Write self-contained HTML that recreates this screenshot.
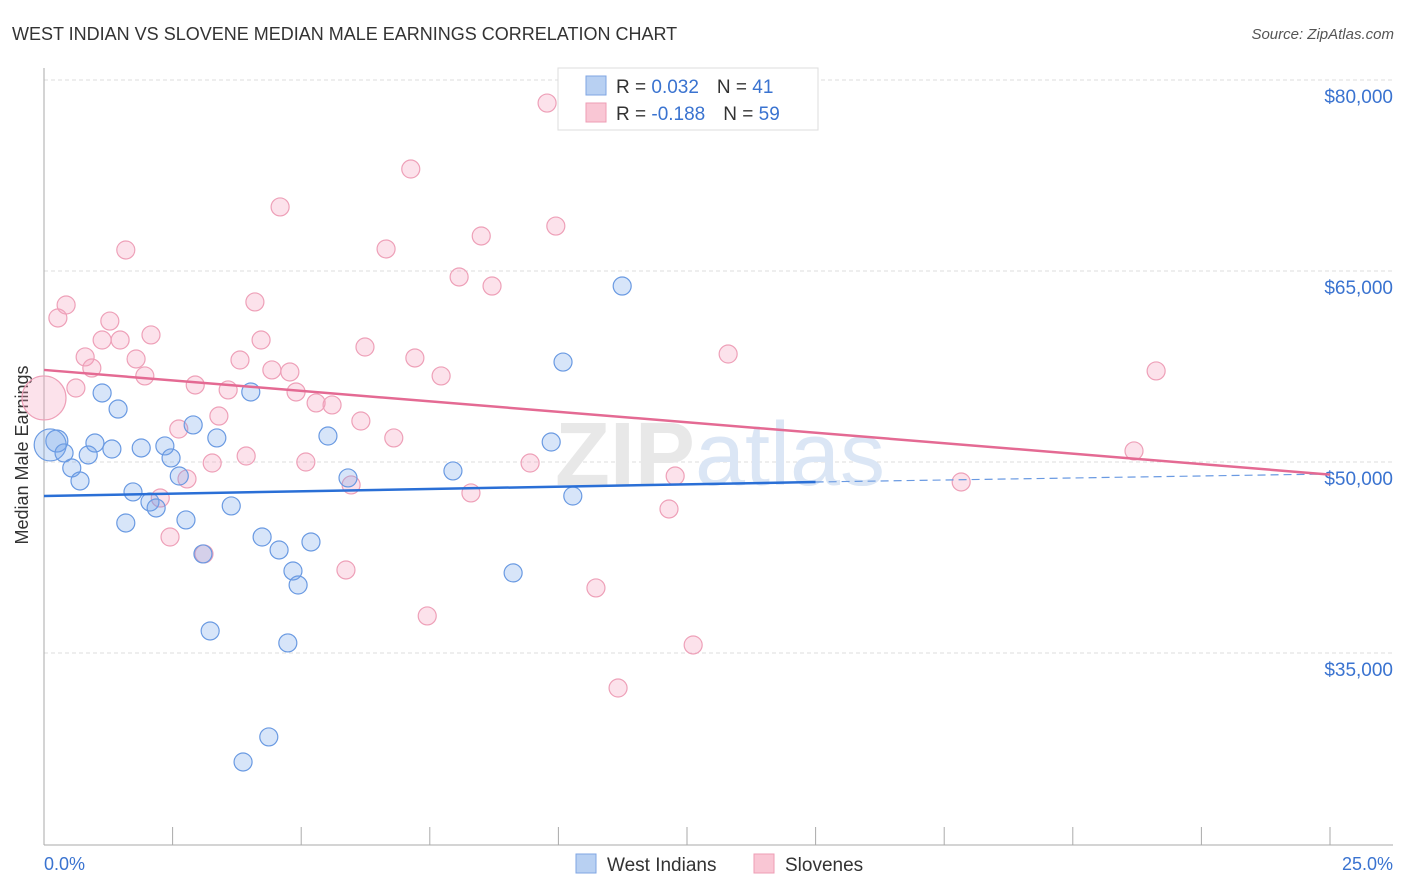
<!DOCTYPE html>
<html><head><meta charset="utf-8"><style>
body{margin:0;background:#fff;font-family:"Liberation Sans",sans-serif;}
svg{display:block}
</style></head><body>
<svg width="1406" height="892" xmlns="http://www.w3.org/2000/svg">
<text x="12" y="40" font-size="18" fill="#333">WEST INDIAN VS SLOVENE MEDIAN MALE EARNINGS CORRELATION CHART</text>
<text x="1394" y="39" font-size="15" fill="#555" font-style="italic" text-anchor="end">Source: ZipAtlas.com</text>
<g id="grid"></g>
<text x="720" y="485" font-size="90" fill="#e8e8e8" text-anchor="middle" font-weight="bold">ZIP<tspan fill="#dbe6f5" font-weight="normal">atlas</tspan></text>
<line x1="44" y1="68" x2="44" y2="845" stroke="#aaa"/>
<line x1="44" y1="845" x2="1393" y2="845" stroke="#aaa"/>
<g id="xticks"></g>
<text x="28" y="455" font-size="18" fill="#333" text-anchor="middle" transform="rotate(-90 28 455)">Median Male Earnings</text>
<text x="44" y="870" font-size="18" fill="#3a73d0">0.0%</text>
<text x="1393" y="870" font-size="18" fill="#3a73d0" text-anchor="end">25.0%</text>
<g id="pts"></g>
<g id="trends"></g>
<g>
<rect x="558" y="68" width="260" height="62" fill="#fff" stroke="#ddd"/>
<rect x="586" y="76" width="20" height="19" fill="#b8d0f2" stroke="#7fa6e3"/>
<rect x="586" y="103" width="20" height="19" fill="#f9c6d4" stroke="#ee9db5"/>
<text x="616" y="93" font-size="19" fill="#333">R = <tspan fill="#3a73d0">0.032</tspan><tspan dx="18">N = </tspan><tspan fill="#3a73d0">41</tspan></text>
<text x="616" y="120" font-size="19" fill="#333">R = <tspan fill="#3a73d0">-0.188</tspan><tspan dx="18">N = </tspan><tspan fill="#3a73d0">59</tspan></text>
</g>
<g>
<rect x="576" y="854" width="20" height="19" fill="#b8d0f2" stroke="#7fa6e3"/>
<text x="607" y="871" font-size="19" fill="#333">West Indians</text>
<rect x="754" y="854" width="20" height="19" fill="#f9c6d4" stroke="#ee9db5"/>
<text x="785" y="871" font-size="19" fill="#333">Slovenes</text>
</g>
</svg>
<script>
const yTicks=[80000,65000,50000,35000];
const yTickLabels=["$80,000","$65,000","$50,000","$35,000"];
const xTicks=[2.5,5,7.5,10,12.5,15,17.5,20,22.5,25];
const blueX=[0.25,0.12,0.39,0.54,0.70,0.99,0.86,1.13,1.32,1.44,1.59,1.73,1.89,2.06,2.18,2.35,2.47,2.63,2.76,2.90,3.09,3.23,3.36,3.64,4.02,4.24,4.37,4.57,3.87,4.74,4.84,4.94,5.19,5.52,5.91,7.95,9.12,9.86,10.09,10.28,11.24];
const blueY=[51650,51340,50710,49530,48510,51490,50550,55420,51020,54160,45210,47650,51100,46860,46390,51260,50320,48900,45450,52910,42780,36730,51890,46550,55500,44110,28410,43090,26440,35790,41440,40340,43720,52040,48750,49300,41290,51570,57850,47330,63820];
const blueR=[11,16,9,9,9,9,9,9,9,9,9,9,9,9,9,9,9,9,9,9,9,9,9,9,9,9,9,9,9,9,9,9,9,9,9,9,9,9,9,9,9];
const pinkX=[0.0,0.27,0.43,0.62,0.80,0.93,1.13,1.28,1.48,1.59,1.79,1.96,2.08,2.26,2.45,2.62,2.78,2.94,3.11,3.27,3.40,3.58,3.81,3.93,4.10,4.22,4.43,4.59,4.78,4.90,5.09,5.29,5.60,5.87,5.97,6.16,6.24,6.65,6.80,7.13,7.21,7.45,7.72,8.07,8.30,8.50,8.71,9.45,9.78,9.95,10.73,11.16,12.15,12.27,12.62,13.30,17.83,21.19,21.62];
const pinkY=[55030,61310,62330,55810,58250,57380,59580,61070,59580,66650,58090,56760,59980,47170,44110,52590,48670,56050,42780,49920,53610,55660,58010,50470,62570,59580,57230,70030,57070,55500,50000,54640,54480,41520,48200,53220,59030,66730,51890,73010,58170,37910,56760,64530,47570,67750,63820,49920,78190,68530,40110,32250,46310,48900,35630,58480,48430,50870,57150];
const blueTrendX=[0,15,25];
const blueTrendY=[47330,48430,49060];
const pinkTrendX=[0,25];
const pinkTrendY=[57230,49010];
const NS="http://www.w3.org/2000/svg";
const X=v=>44+v/25*1286;
const Y=v=>80+(80000-v)/15000*191;
function mk(t,a,p){const e=document.createElementNS(NS,t);for(const k in a)e.setAttribute(k,a[k]);p.appendChild(e);return e;}
const grid=document.getElementById('grid');
yTicks.forEach((v,i)=>{
 const l=mk('line',{x1:44,x2:1393,y1:Y(v),y2:Y(v),stroke:'#ddd','stroke-dasharray':'4 3'},grid);
 
 
 const t=mk('text',{x:1393,y:Y(v)+23,'font-size':19,fill:'#3a73d0','text-anchor':'end'},grid);
 t.textContent=yTickLabels[i];
 
 
});
const xt=document.getElementById('xticks');
xTicks.forEach(v=>{
 const l=mk('line',{x1:X(v),x2:X(v),y1:827,y2:845,stroke:'#aaa'},xt);
 
 
});
const pts=document.getElementById('pts');
pinkX.forEach((v,i)=>{
 const c=mk('circle',{cx:X(v),cy:Y(pinkY[i]),r:i===0?22:9,fill:'rgba(245,160,188,0.3)',stroke:'#eea0b8','stroke-width':1.2},pts);
 
 
});
blueX.forEach((v,i)=>{
 const c=mk('circle',{cx:X(v),cy:Y(blueY[i]),r:blueR[i],fill:'rgba(110,160,235,0.28)',stroke:'#6a9ae2','stroke-width':1.2},pts);
 
 
});
const tr=document.getElementById('trends');
const b1=mk('line',{x1:X(blueTrendX[0]),y1:Y(blueTrendY[0]),x2:X(blueTrendX[1]),y2:Y(blueTrendY[1]),stroke:'#2a6fd6','stroke-width':2.5},tr);


const b2=mk('line',{x1:X(blueTrendX[1]),y1:Y(blueTrendY[1]),x2:X(blueTrendX[2]),y2:Y(blueTrendY[2]),stroke:'#6a9ae2','stroke-width':1.2,'stroke-dasharray':'8 5'},tr);


const p1=mk('line',{x1:X(pinkTrendX[0]),y1:Y(pinkTrendY[0]),x2:X(pinkTrendX[1]),y2:Y(pinkTrendY[1]),stroke:'#e46a93','stroke-width':2.5},tr);


</script>
</body></html>
